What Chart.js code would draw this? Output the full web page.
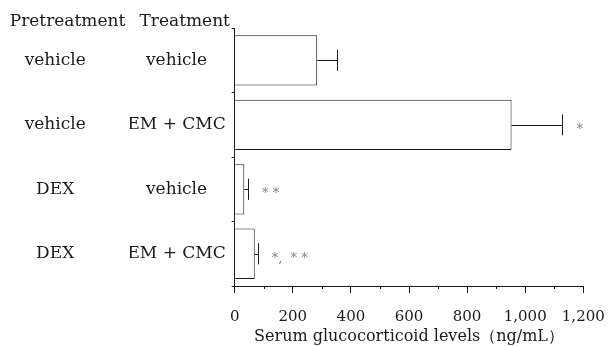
<!DOCTYPE html>
<html>
<head>
<meta charset="utf-8">
<script src="https://cdn.jsdelivr.net/npm/chart.js@4/dist/chart.umd.min.js"></script>
<style>
html,body{margin:0;padding:0;background:#fff;}
canvas{display:block;}
</style>
</head>
<body>
<canvas id="c" width="609" height="346"></canvas>
<script>
const pretreatment = ['vehicle', 'vehicle', 'DEX', 'DEX'];
const treatment = ['vehicle', 'EM + CMC', 'vehicle', 'EM + CMC'];
const means = [284, 953, 33, 69];
const errors = [68, 175, 13, 10];
const significance = ['', '*', '* *', '*,  * *'];
const xTickLabels = ['0', '200', '400', '600', '800', '1,000', '1,200'];
const headerText = 'Pretreatment  \u2009Treatment';
const xTitle = 'Serum glucocorticoid levels\uFF08ng/mL\uFF09';

const SERIF = '"DejaVu Serif", serif';
const INK = '#1a1a1a';

const errorPlugin = {
  id: 'errorBars',
  afterDatasetsDraw(chart) {
    const meta = chart.getDatasetMeta(0);
    const xs = chart.scales.x;
    const ctx = chart.ctx;
    ctx.save();
    ctx.strokeStyle = INK;
    ctx.lineWidth = 1;
    meta.data.forEach((bar, i) => {
      const x0 = bar.x;
      const x1 = xs.getPixelForValue(means[i] + errors[i]);
      const y = bar.y;
      const h = bar.height * 0.42;
      const yy = Math.round(y) + 0.5;
      const xx = Math.round(x1) + 0.5;
      ctx.beginPath();
      ctx.moveTo(x0, yy);
      ctx.lineTo(xx, yy);
      ctx.moveTo(xx, y - h / 2);
      ctx.lineTo(xx, y + h / 2);
      ctx.stroke();
      if (significance[i]) {
        ctx.fillStyle = '#808080';
        ctx.font = '13px ' + SERIF;
        ctx.textAlign = 'left';
        ctx.textBaseline = 'alphabetic';
        ctx.fillText(significance[i], x1 + 14, y + 8);
      }
    });
    // minor ticks on the x axis
    ctx.beginPath();
    const b = xs.top;
    xs.ticks.forEach(t => {
      if (t.value % 200 !== 0) {
        const px = Math.round(xs.getPixelForValue(t.value)) + 0.5;
        ctx.moveTo(px, b);
        ctx.lineTo(px, b + 3);
      }
    });
    ctx.stroke();
    ctx.restore();
  }
};

function fixVertical(width) {
  return s => {
    s.width = width;
    s.paddingTop = 0;
    s.paddingBottom = 0;
  };
}

new Chart(document.getElementById('c'), {
  type: 'bar',
  data: {
    labels: treatment,
    datasets: [{
      data: means,
      backgroundColor: '#ffffff',
      borderColor: INK,
      borderWidth: 1,
      barPercentage: 0.78,
      categoryPercentage: 1.0
    }]
  },
  options: {
    indexAxis: 'y',
    responsive: false,
    animation: false,
    devicePixelRatio: 1,
    layout: { padding: { left: 9.7, right: 25.7, top: 0, bottom: 0 } },
    plugins: {
      legend: { display: false },
      tooltip: { enabled: false },
      title: {
        display: true,
        text: headerText,
        align: 'start',
        color: INK,
        font: { family: SERIF, size: 17, weight: 'normal', lineHeight: 0.8 },
        padding: { top: 14.5, bottom: 0 }
      }
    },
    scales: {
      x: {
        type: 'linear',
        min: 0,
        max: 1200,
        position: 'bottom',
        grid: {
          drawOnChartArea: false,
          tickLength: 7,
          tickColor: ctx => (ctx.tick && ctx.tick.value % 200 === 0) ? INK : 'rgba(0,0,0,0)'
        },
        border: { display: true, color: INK, width: 1 },
        ticks: {
          stepSize: 100,
          autoSkip: false,
          maxRotation: 0,
          padding: 4,
          color: INK,
          font: { family: SERIF, size: 15, lineHeight: 2.733 },
          callback: v => (v % 200 === 0) ? xTickLabels[v / 200] : ''
        },
        title: {
          display: true,
          text: xTitle,
          color: INK,
          font: { family: SERIF, size: 16, lineHeight: 1 },
          padding: { top: -13.5, bottom: 1.5 }
        }
      },
      y: {
        type: 'category',
        position: 'left',
        weight: 0,
        offset: true,
        grid: {
          offset: true,
          drawOnChartArea: false,
          tickLength: 3,
          color: INK
        },
        border: { display: true, color: INK, width: 1 },
        ticks: {
          crossAlign: 'center',
          padding: 6,
          color: INK,
          font: { family: SERIF, size: 17 }
        },
        afterFit: fixVertical(105)
      },
      y2: {
        type: 'category',
        labels: pretreatment,
        position: 'left',
        weight: 1,
        offset: true,
        grid: { display: false, drawTicks: false, drawOnChartArea: false },
        border: { display: false },
        ticks: {
          crossAlign: 'center',
          padding: 44,
          color: INK,
          font: { family: SERIF, size: 17 }
        },
        afterFit: fixVertical(120)
      }
    }
  },
  plugins: [errorPlugin]
});
</script>
</body>
</html>
